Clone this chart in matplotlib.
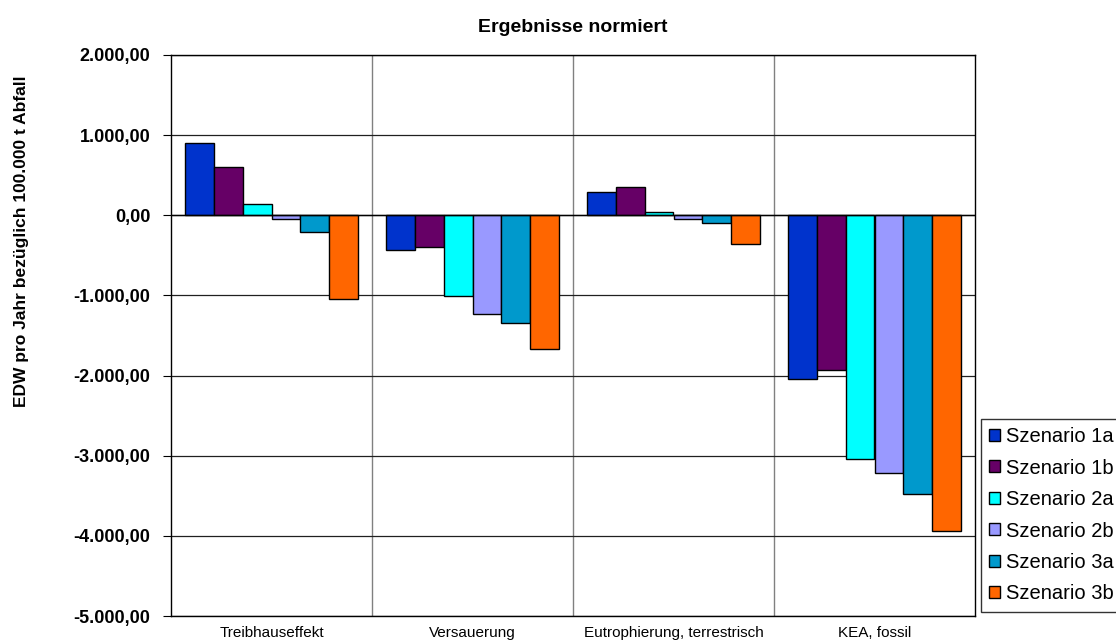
import matplotlib
matplotlib.use("Agg")
import matplotlib.pyplot as plt
from matplotlib.ticker import FuncFormatter, MultipleLocator
from matplotlib.patches import Patch
import numpy as np

plt.rcParams['font.family'] = ['Liberation Sans', 'DejaVu Sans']

categories = ['Treibhauseffekt', 'Versauerung', 'Eutrophierung, terrestrisch', 'KEA, fossil']
series = ['Szenario 1a', 'Szenario 1b', 'Szenario 2a', 'Szenario 2b', 'Szenario 3a', 'Szenario 3b']
colors = ['#0033CC', '#660066', '#00FFFF', '#9999FF', '#0099CC', '#FF6600']

sz_1a = [900, -436, 291, -2040]
sz_1b = [600, -394, 357, -1926]
sz_2a = [145, -1009, 46, -3039]
sz_2b = [-42, -1229, -46, -3217]
sz_3a = [-203, -1341, -91, -3474]
sz_3b = [-1042, -1673, -353, -3944]
values = [sz_1a, sz_1b, sz_2a, sz_2b, sz_3a, sz_3b]


def de_fmt(v, pos):
    s = f"{v:,.2f}"
    return s.replace(",", "X").replace(".", ",").replace("X", ".")


fig = plt.figure(figsize=(11.16, 6.42), dpi=100)
ax = fig.add_axes([171 / 1116, 1 - 616 / 642, (975 - 171) / 1116, (616 - 55) / 642])

x = np.arange(len(categories))
w = 1 / 7
for i, (name, vals) in enumerate(zip(series, values)):
    ax.bar(x + (i - 2.5) * w, vals, width=w, color=colors[i], edgecolor='black',
           linewidth=1.0, label=name, zorder=3)

ax.set_xlim(-0.5, 3.5)
ax.set_ylim(-5000, 2000)
ax.yaxis.set_major_locator(MultipleLocator(1000))
ax.yaxis.set_major_formatter(FuncFormatter(de_fmt))
ax.grid(axis='y', color='#202020', linewidth=0.9, zorder=1)
for b in [0.5, 1.5, 2.5]:
    ax.axvline(b, color='#808080', linewidth=1.0, zorder=1)
ax.axhline(0, color='black', linewidth=1.0, zorder=4)

ax.set_xticks(x)
ax.set_xticklabels(categories, fontsize=11)
ax.tick_params(axis='x', length=0, pad=7)
ax.tick_params(axis='y', length=6, width=0.8, labelsize=13, pad=9)
for lab in ax.get_yticklabels():
    lab.set_fontweight('bold')
for sp in ax.spines.values():
    sp.set_color('black')
    sp.set_linewidth(1.0)

fig.text(573 / 1116, 1 - 27 / 642, 'Ergebnisse normiert', ha='center', va='center',
         fontsize=14, fontweight='bold')
fig.text(22 / 1116, 1 - 241 / 642, 'EDW pro Jahr bezüglich 100.000 t Abfall', rotation=90,
         ha='center', va='center', fontsize=12.5, fontweight='bold')

handles = [Patch(facecolor=c, edgecolor='black', linewidth=1.0) for c in colors]
leg = fig.legend(handles, series, loc='upper left', bbox_to_anchor=(981 / 1116, 1 - 419 / 642),
                 fontsize=14.5, frameon=True, fancybox=False, edgecolor='black',
                 handlelength=0.55, handleheight=0.55, handletextpad=0.3,
                 labelspacing=0.62, borderpad=0.4, borderaxespad=0)
leg.get_frame().set_linewidth(1.0)

fig.savefig('out.png', dpi=100)
